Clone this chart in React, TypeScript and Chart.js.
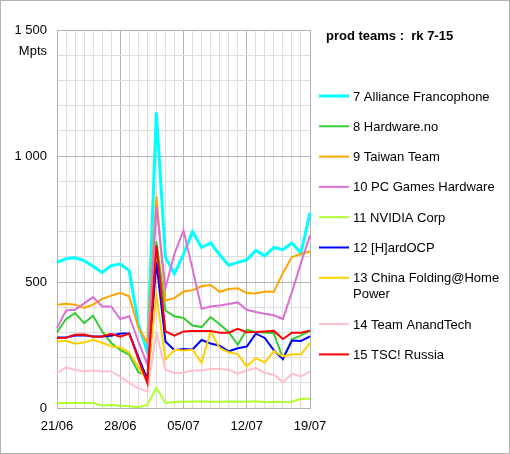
import React, { useEffect, useRef } from "react";
import { Chart, registerables } from "chart.js";

Chart.register(...registerables);

const days = [
  "21/06", "22/06", "23/06", "24/06", "25/06", "26/06", "27/06", "28/06", "29/06", "30/06",
  "01/07", "02/07", "03/07", "04/07", "05/07", "06/07", "07/07", "08/07", "09/07", "10/07",
  "11/07", "12/07", "13/07", "14/07", "15/07", "16/07", "17/07", "18/07", "19/07",
];

const allianceFrancophone = [578, 592, 596, 585, 562, 538, 565, 571, 544, 335, 222, 1173, 598, 533, 610, 700, 637, 655, 608, 566, 578, 588, 625, 604, 637, 628, 655, 615, 774];
const hardwareNo = [300, 353, 377, 337, 366, 304, 258, 231, 211, 142, 128, 661, 387, 364, 357, 327, 321, 361, 332, 302, 251, 311, 301, 300, 297, 196, 273, 288, 306];
const taiwanTeam = [410, 414, 410, 397, 410, 433, 446, 456, 443, 320, 258, 840, 427, 436, 462, 467, 483, 488, 461, 472, 475, 456, 454, 462, 461, 536, 599, 611, 621];
const pcGamesHardware = [317, 387, 390, 415, 440, 403, 403, 353, 364, 265, 172, 800, 475, 612, 705, 552, 394, 403, 407, 413, 419, 390, 381, 374, 368, 353, 460, 575, 685];
const nvidiaCorp = [20, 20, 20, 20, 20, 10, 12, 9, 7, 3, 12, 80, 20, 24, 25, 26, 26, 25, 25, 26, 25, 25, 27, 23, 25, 24, 25, 37, 37];
const hardOCP = [280, 280, 288, 289, 284, 284, 287, 296, 296, 203, 114, 580, 264, 229, 234, 232, 270, 256, 247, 225, 237, 244, 295, 278, 229, 194, 268, 266, 284];
const chinaFolding = [264, 267, 255, 260, 271, 259, 245, 240, 220, 162, 108, 450, 192, 231, 228, 231, 179, 304, 238, 221, 214, 165, 198, 181, 226, 205, 213, 213, 257];
const teamAnandTech = [138, 161, 152, 145, 150, 145, 145, 125, 100, 78, 66, 300, 152, 139, 140, 149, 149, 155, 155, 152, 136, 149, 159, 139, 132, 102, 136, 125, 145];
const tscRussia = [278, 279, 291, 292, 283, 284, 294, 283, 295, 195, 99, 645, 304, 287, 304, 306, 306, 306, 299, 299, 314, 301, 302, 304, 306, 274, 299, 299, 307];

const seriesNames = [
  "7 Alliance Francophone",
  "8 Hardware.no",
  "9 Taiwan Team",
  "10 PC Games Hardware",
  "11 NVIDIA Corp",
  "12 [H]ardOCP",
  "13 China Folding@Home Power",
  "14 Team AnandTech",
  "15 TSC! Russia",
];
const seriesValues = [allianceFrancophone, hardwareNo, taiwanTeam, pcGamesHardware, nvidiaCorp, hardOCP, chinaFolding, teamAnandTech, tscRussia];
const seriesColors = ["#00ffff", "#33cc33", "#ffa500", "#da70d6", "#adff2f", "#0000ff", "#ffd000", "#ffc0cb", "#ff0000"];
const seriesWidths = [3, 2, 2, 2, 2, 2, 2, 2, 2];

const chartTitle = "prod teams :  rk 7-15";
const unitLabel = "Mpts";

const FONT = "'Liberation Sans', Arial, sans-serif";

function fmt(v: number): string {
  if (v >= 1000) return Math.floor(v / 1000) + " " + String(v % 1000).padStart(3, "0");
  return String(v);
}

function wrap(ctx: CanvasRenderingContext2D, text: string, maxW: number): string[] {
  const words = text.split(" ");
  const lines: string[] = [];
  let cur = "";
  for (const w of words) {
    const t = cur ? cur + " " + w : w;
    if (ctx.measureText(t).width > maxW && cur) {
      lines.push(cur);
      cur = w;
    } else cur = t;
  }
  if (cur) lines.push(cur);
  return lines;
}

const decorPlugin = {
  id: "decor",
  beforeDraw(chart: any) {
    const ctx = chart.ctx;
    ctx.save();
    ctx.fillStyle = "#ffffff";
    ctx.fillRect(0, 0, chart.width, chart.height);
    ctx.restore();
  },
  afterDraw(chart: any) {
    const ctx = chart.ctx as CanvasRenderingContext2D;
    const ca = chart.chartArea;
    ctx.save();
    ctx.strokeStyle = "#b3b3b3";
    ctx.lineWidth = 1;
    ctx.strokeRect(0.5, 0.5, chart.width - 1, chart.height - 1);
    ctx.fillStyle = "#000";
    ctx.font = "13px " + FONT;
    ctx.textAlign = "right";
    ctx.textBaseline = "middle";
    ctx.fillText(unitLabel, ca.left - 10, ca.top + 21);
    ctx.textAlign = "left";
    ctx.font = "bold 13px " + FONT;
    ctx.fillText(chartTitle, ca.right + 16, 36);
    ctx.font = "13px " + FONT;
    let y = 96;
    chart.data.datasets.forEach((ds: any) => {
      ctx.strokeStyle = ds.borderColor;
      ctx.lineWidth = ds.borderWidth;
      ctx.beginPath();
      ctx.moveTo(ca.right + 9, y);
      ctx.lineTo(ca.right + 39, y);
      ctx.stroke();
      const lines = wrap(ctx, ds.label, 150);
      ctx.fillStyle = "#000";
      lines.forEach((ln, i) => ctx.fillText(ln, ca.right + 43, y + 1 + i * 16));
      y += 30.3 + (lines.length - 1) * 16;
    });
    ctx.restore();
  },
};

export default function App() {
  const ref = useRef<HTMLCanvasElement | null>(null);
  useEffect(() => {
    document.body.style.margin = "0";
    if (!ref.current) return;
    const chart = new Chart(ref.current, {
      type: "line",
      data: {
        labels: days,
        datasets: seriesNames.map((name, k) => ({
          label: name,
          data: seriesValues[k],
          borderColor: seriesColors[k],
          backgroundColor: seriesColors[k],
          borderWidth: seriesWidths[k],
          pointRadius: 0,
          tension: 0,
          fill: false,
          order: 9 - k,
        })),
      },
      options: {
        animation: false,
        responsive: false,
        devicePixelRatio: 1,
        layout: { padding: { left: 0, right: 200, top: 30, bottom: 0 } },
        plugins: { legend: { display: false }, tooltip: { enabled: false }, title: { display: false } },
        scales: {
          x: {
            offset: false,
            grid: {
              drawTicks: false,
              color: (c: any) => (c.index % 7 === 0 ? "#b3b3b3" : "#dddddd"),
            },
            border: { color: "#b3b3b3" },
            ticks: {
              autoSkip: false,
              maxRotation: 0,
              padding: 11,
              color: "#000",
              font: { family: FONT, size: 13 },
              callback: (_v: any, i: number) => (i % 7 === 0 ? days[i] : ""),
            },
            afterFit: (s: any) => {
              s.height = 46;
            },
          },
          y: {
            min: 0,
            max: 1500,
            grid: {
              drawTicks: false,
              color: (c: any) => (c.tick && c.tick.value % 500 === 0 ? "#b3b3b3" : "#dddddd"),
            },
            border: { color: "#b3b3b3" },
            ticks: {
              stepSize: 100,
              autoSkip: false,
              padding: 10,
              color: "#000",
              font: { family: FONT, size: 13 },
              callback: (v: any) => (Number(v) % 500 === 0 ? fmt(Number(v)) : ""),
            },
            afterFit: (s: any) => {
              s.width = 57;
            },
          },
        },
      },
      plugins: [decorPlugin],
    });
    return () => chart.destroy();
  }, []);
  return (
    <div style={{ width: 510, height: 454 }}>
      <canvas ref={ref} width={510} height={454} style={{ display: "block" }} />
    </div>
  );
}
